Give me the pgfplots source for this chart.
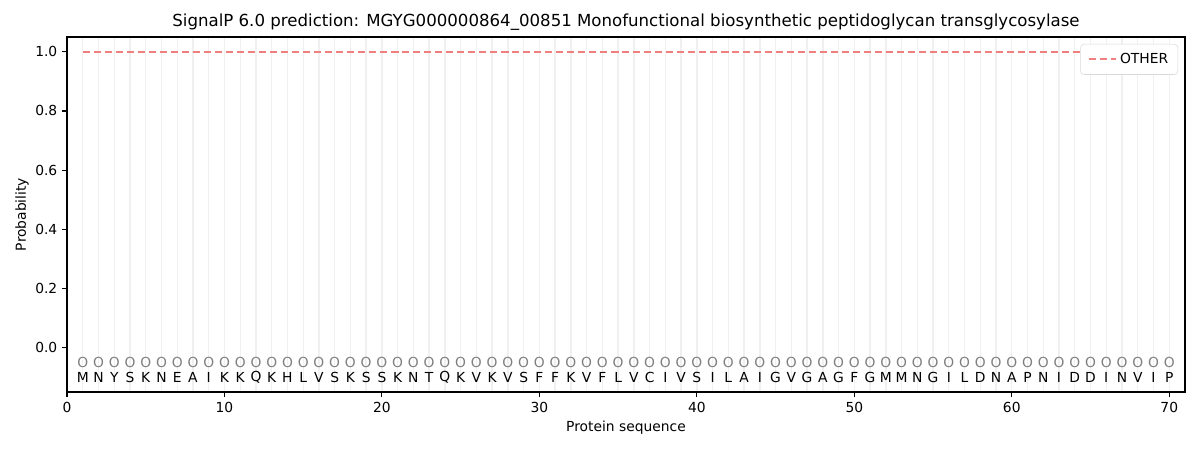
\documentclass[border=0pt]{standalone}
\usepackage{fontspec}
\setmainfont{DejaVu Sans}
\usepackage{pgfplots}
\usepackage{pgfplotstable}
\pgfplotsset{compat=1.18}
\definecolor{otherc}{RGB}{240,128,128}
\definecolor{gridc}{RGB}{240,240,240}
\pgfplotstableread{
x y lab
1 -0.1 M
2 -0.1 N
3 -0.1 Y
4 -0.1 S
5 -0.1 K
6 -0.1 N
7 -0.1 E
8 -0.1 A
9 -0.1 I
10 -0.1 K
11 -0.1 K
12 -0.1 Q
13 -0.1 K
14 -0.1 H
15 -0.1 L
16 -0.1 V
17 -0.1 S
18 -0.1 K
19 -0.1 S
20 -0.1 S
21 -0.1 K
22 -0.1 N
23 -0.1 T
24 -0.1 Q
25 -0.1 K
26 -0.1 V
27 -0.1 K
28 -0.1 V
29 -0.1 S
30 -0.1 F
31 -0.1 F
32 -0.1 K
33 -0.1 V
34 -0.1 F
35 -0.1 L
36 -0.1 V
37 -0.1 C
38 -0.1 I
39 -0.1 V
40 -0.1 S
41 -0.1 I
42 -0.1 L
43 -0.1 A
44 -0.1 I
45 -0.1 G
46 -0.1 V
47 -0.1 G
48 -0.1 A
49 -0.1 G
50 -0.1 F
51 -0.1 G
52 -0.1 M
53 -0.1 M
54 -0.1 N
55 -0.1 G
56 -0.1 I
57 -0.1 L
58 -0.1 D
59 -0.1 N
60 -0.1 A
61 -0.1 P
62 -0.1 N
63 -0.1 I
64 -0.1 D
65 -0.1 D
66 -0.1 I
67 -0.1 N
68 -0.1 V
69 -0.1 I
70 -0.1 P
}\seqtable
\pgfplotstableread{
x y
1 1.0
2 1.0
3 1.0
4 1.0
5 1.0
6 1.0
7 1.0
8 1.0
9 1.0
10 1.0
11 1.0
12 1.0
13 1.0
14 1.0
15 1.0
16 1.0
17 1.0
18 1.0
19 1.0
20 1.0
21 1.0
22 1.0
23 1.0
24 1.0
25 1.0
26 1.0
27 1.0
28 1.0
29 1.0
30 1.0
31 1.0
32 1.0
33 1.0
34 1.0
35 1.0
36 1.0
37 1.0
38 1.0
39 1.0
40 1.0
41 1.0
42 1.0
43 1.0
44 1.0
45 1.0
46 1.0
47 1.0
48 1.0
49 1.0
50 1.0
51 1.0
52 1.0
53 1.0
54 1.0
55 1.0
56 1.0
57 1.0
58 1.0
59 1.0
60 1.0
61 1.0
62 1.0
63 1.0
64 1.0
65 1.0
66 1.0
67 1.0
68 1.0
69 1.0
70 1.0
}\othertable
\begin{document}
\begin{tikzpicture}
\useasboundingbox (-0.67in,-0.58in) rectangle (11.33in,3.92in);
\begin{axis}[
  at={(0,0)}, anchor=south west,
  scale only axis, width=11.18in, height=3.55in,
  xmin=0, xmax=71, ymin=-0.15, ymax=1.05,
  xtick={0,10,...,70},
  ytick={0,0.2,0.4,0.6,0.8,1.0},
  yticklabel style={/pgf/number format/.cd,fixed,fixed zerofill,precision=1},
  /pgf/number format/assume math mode=true,
  tick label style={font=\fontsize{10}{12}\selectfont},
  label style={font=\fontsize{10}{12}\selectfont},
  minor xtick={1,...,70},
  xminorgrids=true,
  minor grid style={gridc, line width=1pt},
  minor tick length=0pt,
  major tick length=3.5pt,
  tick align=outside,
  xtick pos=bottom, ytick pos=left,
  axis line style={line width=0.8pt},
  tick style={line width=0.8pt, black},
  title={SignalP 6.0 prediction: MGYG000000864\_00851 Monofunctional biosynthetic peptidoglycan transglycosylase},
  title style={font=\fontsize{12}{14}\selectfont, at={(axis description cs:0.5,1)}, anchor=south, yshift=-5pt},
  xlabel={Protein sequence},
  ylabel={Probability},
  xlabel style={at={(axis description cs:0.5,-0.101)}, anchor=center},
  ylabel style={at={(axis description cs:-0.0403,0.5)}, anchor=center},
  legend style={at={(axis description cs:1,1)}, anchor=north east, xshift=-5pt, yshift=-5pt,
    draw=gray!30, rounded corners=2.5pt, font=\fontsize{10}{12}\selectfont,
    inner xsep=5pt, inner ysep=4.5pt},
  legend cell align=left,
  legend image code/.code={\draw[#1] (0cm,0cm) -- (20pt,0cm);},
]
\addplot[otherc, line width=1.5pt, dash pattern=on 5.55pt off 2.4pt] table[x=x,y=y] {\othertable};
\addlegendentry{OTHER}
\addplot[only marks, mark=none, nodes near coords={O}, point meta=explicit symbolic,
  every node near coord/.append style={anchor=center, text=gray, font=\fontsize{10}{12}\selectfont}]
  table[x=x, y expr=-0.05, meta=lab] {\seqtable};
\addplot[only marks, mark=none, nodes near coords, point meta=explicit symbolic,
  every node near coord/.append style={anchor=center, text=black, font=\fontsize{10}{12}\selectfont}]
  table[x=x, y=y, meta=lab] {\seqtable};
\end{axis}
\end{tikzpicture}
\end{document}
